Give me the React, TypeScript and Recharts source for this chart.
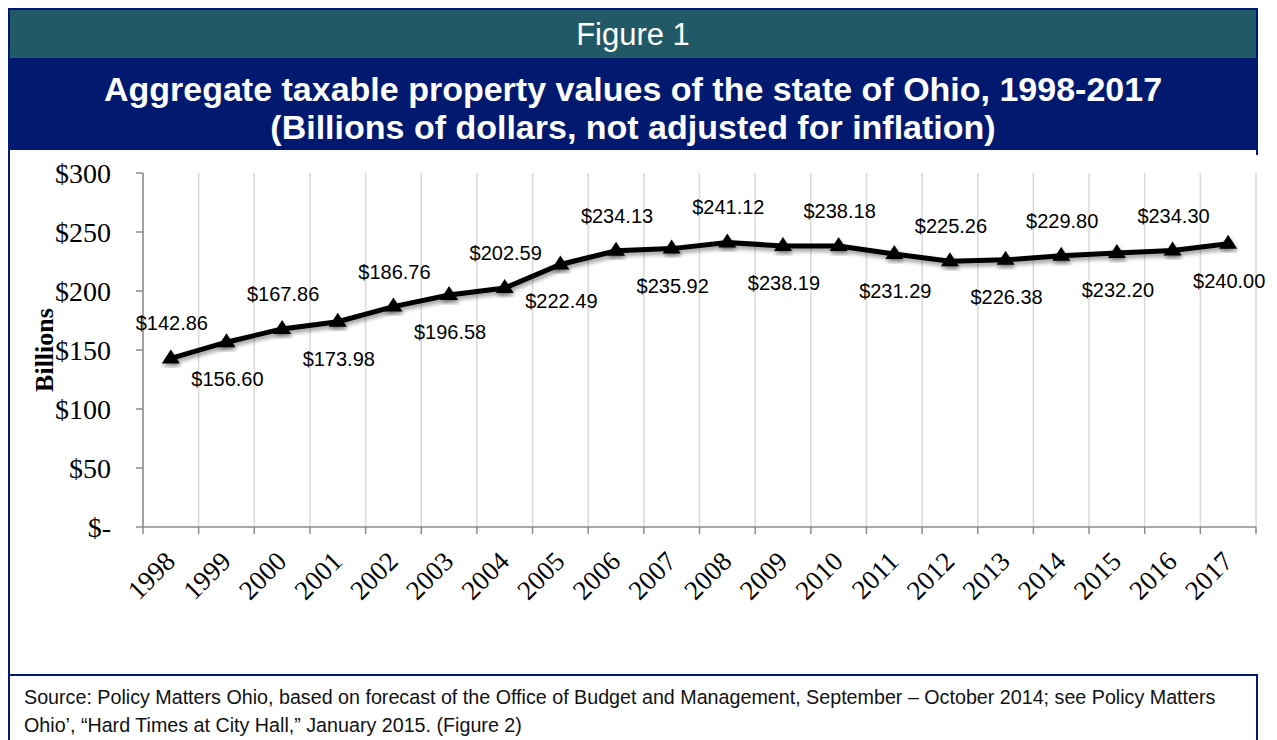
import React from 'react';
import { LineChart, Line, XAxis, YAxis, CartesianGrid, LabelList } from 'recharts';

const years = ['1998', '1999', '2000', '2001', '2002', '2003', '2004', '2005', '2006', '2007',
    '2008', '2009', '2010', '2011', '2012', '2013', '2014', '2015', '2016', '2017'];
const values = [142.86, 156.60, 167.86, 173.98, 186.76, 196.58, 202.59, 222.49, 234.13, 235.92,
    241.12, 238.19, 238.18, 231.29, 225.26, 226.38, 229.80, 232.20, 234.30, 240.00];
const yTicks = [0, 50, 100, 150, 200, 250, 300];

// band edges (gridlines / x tick marks) and band centres (year labels)
const bandEdges = [...years.map((_, i) => i), years.length];
const bandCenters = years.map((_, i) => i + 0.5);

const data = years.map((year, i) => ({ pos: i + 0.5, year, value: values[i] }));

const NAVY = '#011a70';
const TEAL = '#215966';
const SERIF = '"Liberation Serif", "Times New Roman", serif';
const SANS = '"Liberation Sans", Arial, sans-serif';

const NoTick = () => <g />;

const YearTick = (props: any) => {
    const { x, y, payload } = props;
    const label = years[Math.floor(payload.value)];
    return (
        <text transform={`translate(${x + 6},${y + 28}) rotate(-45)`} textAnchor="end"
            fontFamily={SERIF} fontSize={27} fill="#000">
            {label}
        </text>
    );
};

const Triangle = (props: any) => {
    const { cx, cy, index } = props;
    return (
        <polygon key={`tri-${index}`} points={`${cx},${cy - 9} ${cx - 9},${cy + 5} ${cx + 9},${cy + 5}`}
            fill="#000" filter="url(#lineShadow)" />
    );
};

const PointLabel = (props: any) => {
    const { x, y, value, index } = props;
    // labels alternate above / below the line
    const above = index % 2 === 0;
    return (
        <text x={x + 1} y={y + (above ? -28 : 44)} textAnchor="middle"
            fontFamily={SANS} fontSize={20} fill="#000">
            {'$' + Number(value).toFixed(2)}
        </text>
    );
};

export default function App() {
    return (
        <div style={{ position: 'absolute', left: 0, top: 0, width: 1277, height: 740, background: '#fff', overflow: 'hidden' }}>
            {/* frame */}
            <div style={{ position: 'absolute', left: 8, top: 8, width: 2, height: 732, background: NAVY }} />
            <div style={{ position: 'absolute', left: 8, top: 8, width: 1250, height: 2, background: NAVY }} />
            <div style={{ position: 'absolute', left: 1256, top: 8, width: 2, height: 147, background: NAVY }} />
            <div style={{ position: 'absolute', left: 8, top: 674, width: 1250, height: 2, background: NAVY }} />
            <div style={{ position: 'absolute', left: 1256, top: 674, width: 2, height: 66, background: NAVY }} />

            {/* header */}
            <div style={{ position: 'absolute', left: 10, top: 10, width: 1246, height: 48, background: TEAL,
                color: '#fff', fontFamily: SANS, fontSize: 31, textAlign: 'center', lineHeight: '50px' }}>
                Figure 1
            </div>
            <div style={{ position: 'absolute', left: 10, top: 58, width: 1246, height: 92, background: NAVY,
                color: '#fff', fontFamily: SANS, fontSize: 34, fontWeight: 'bold', textAlign: 'center',
                lineHeight: '38px', paddingTop: 12, boxSizing: 'border-box', whiteSpace: 'nowrap' }}>
                Aggregate taxable property values of the state of Ohio, 1998-2017<br />
                (Billions of dollars, not adjusted for inflation)
            </div>

            {/* y axis title */}
            <div style={{ position: 'absolute', left: 45, top: 350, transform: 'translate(-50%, -50%) rotate(-90deg)',
                fontFamily: SERIF, fontSize: 26, fontWeight: 'bold', color: '#000', whiteSpace: 'nowrap' }}>
                Billions
            </div>

            <div style={{ position: 'absolute', left: 0, top: 150 }}>
                <LineChart width={1277} height={525} data={data} margin={{ top: 23, right: 21, left: 0, bottom: 0 }}>
                    <defs>
                        <filter id="lineShadow" x="-10%" y="-10%" width="120%" height="140%">
                            <feDropShadow dx="1" dy="3" stdDeviation="2" floodColor="#000" floodOpacity="0.4" />
                        </filter>
                    </defs>
                    <CartesianGrid xAxisId="b" horizontal={false} stroke="#d9d9d9" strokeWidth={1.5} />
                    <XAxis xAxisId="b" type="number" dataKey="pos" domain={[0, 20]} ticks={bandEdges}
                        interval={0} tick={<NoTick />} tickSize={7} height={8}
                        stroke="#8c8c8c" strokeWidth={1.5} />
                    <XAxis xAxisId="lbl" type="number" dataKey="pos" domain={[0, 20]} ticks={bandCenters}
                        interval={0} axisLine={false} tickLine={false} tickSize={0} tickMargin={0}
                        height={140} tick={<YearTick />} />
                    <YAxis domain={[0, 300]} ticks={yTicks} interval={0} width={143} tickSize={7} tickMargin={25}
                        tickFormatter={(v: number) => (v === 0 ? '$-' : '$' + v)}
                        tick={{ fill: '#000', fontFamily: SERIF, fontSize: 28 }}
                        stroke="#8c8c8c" strokeWidth={1.5} />
                    <Line xAxisId="b" type="linear" dataKey="value" stroke="#000" strokeWidth={5}
                        filter="url(#lineShadow)" dot={<Triangle />} activeDot={false} isAnimationActive={false}>
                        <LabelList dataKey="value" content={<PointLabel />} />
                    </Line>
                </LineChart>
            </div>

            {/* source note */}
            <div style={{ position: 'absolute', left: 24, top: 683, width: 1232, fontFamily: SANS, fontSize: 19.7,
                lineHeight: '28px', color: '#111', whiteSpace: 'nowrap' }}>
                Source: Policy Matters Ohio, based on forecast of the Office of Budget and Management, September – October 2014; see Policy Matters<br />
                Ohio’, “Hard Times at City Hall,” January 2015. (Figure 2)
            </div>
        </div>
    );
}
